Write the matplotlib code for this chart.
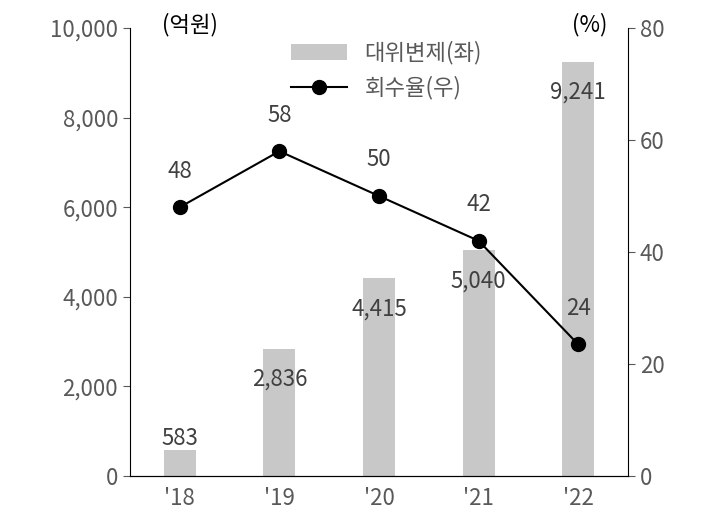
import matplotlib
matplotlib.use("Agg")
import matplotlib.pyplot as plt

plt.rcParams['font.family'] = ['Noto Sans CJK KR', 'Noto Sans CJK JP', 'Noto Sans CJK SC', 'DejaVu Sans']

years = ["'18", "'19", "'20", "'21", "'22"]
subrogation = [583, 2836, 4415, 5040, 9241]
recovery = [48, 58, 50, 42, 23.5]
recovery_labels = ["48", "58", "50", "42", "24"]

grey = '#595959'
fs = 16
fig = plt.figure(figsize=(7.04, 5.21), dpi=100)
ax = fig.add_axes([130/704, 1-476/521, 498/704, 448/521])
ax2 = ax.twinx()
x = range(len(years))
bars = ax.bar(x, subrogation, width=0.32, color='#c8c8c8', label='대위변제(좌)', zorder=1)
ax.set_ylim(0, 10000)
ax.set_xlim(-0.5, 4.5)
ax.set_yticks(range(0, 10001, 2000))
ax.set_yticklabels([f"{v:,}" for v in range(0, 10001, 2000)])
ax.set_xticks(list(x))
ax.set_xticklabels(years)
ax2.set_ylim(0, 80)
ax2.set_yticks(range(0, 81, 20))
line, = ax2.plot(x, recovery, color='black', marker='o', markersize=10, lw=1.5, label='회수율(우)')

for a in (ax, ax2):
    a.spines['top'].set_visible(False)
    a.tick_params(colors=grey, labelsize=fs, length=5)
ax.tick_params(axis='x', length=0, pad=8)
ax2.spines['left'].set_visible(False)
ax.spines['right'].set_visible(False)

for i, v in enumerate(subrogation):
    off = 0 if i == 0 else -22
    ax.annotate(f"{v:,}", (i, v), xytext=(0, off), textcoords='offset points',
                ha='center', va='bottom' if i == 0 else 'center', fontsize=fs, color='#404040', zorder=5)
for i, (v, s) in enumerate(zip(recovery, recovery_labels)):
    ax2.annotate(s, (i, v), xytext=(0, 26), textcoords='offset points',
                 ha='center', va='center', fontsize=fs, color='#404040')

fig.text(190/704, 1-25/521, '(억원)', fontsize=fs, ha='center', va='center', color='black')
fig.text(590/704, 1-25/521, '(%)', fontsize=fs, ha='center', va='center', color='black')
fig.legend([bars, line], ['대위변제(좌)', '회수율(우)'], loc='upper left',
           bbox_to_anchor=(280/704, 1-30/521), frameon=False, fontsize=fs,
           labelcolor=grey, handlelength=2.5, borderpad=0, labelspacing=0.5)
fig.savefig('out.png', dpi=100)
